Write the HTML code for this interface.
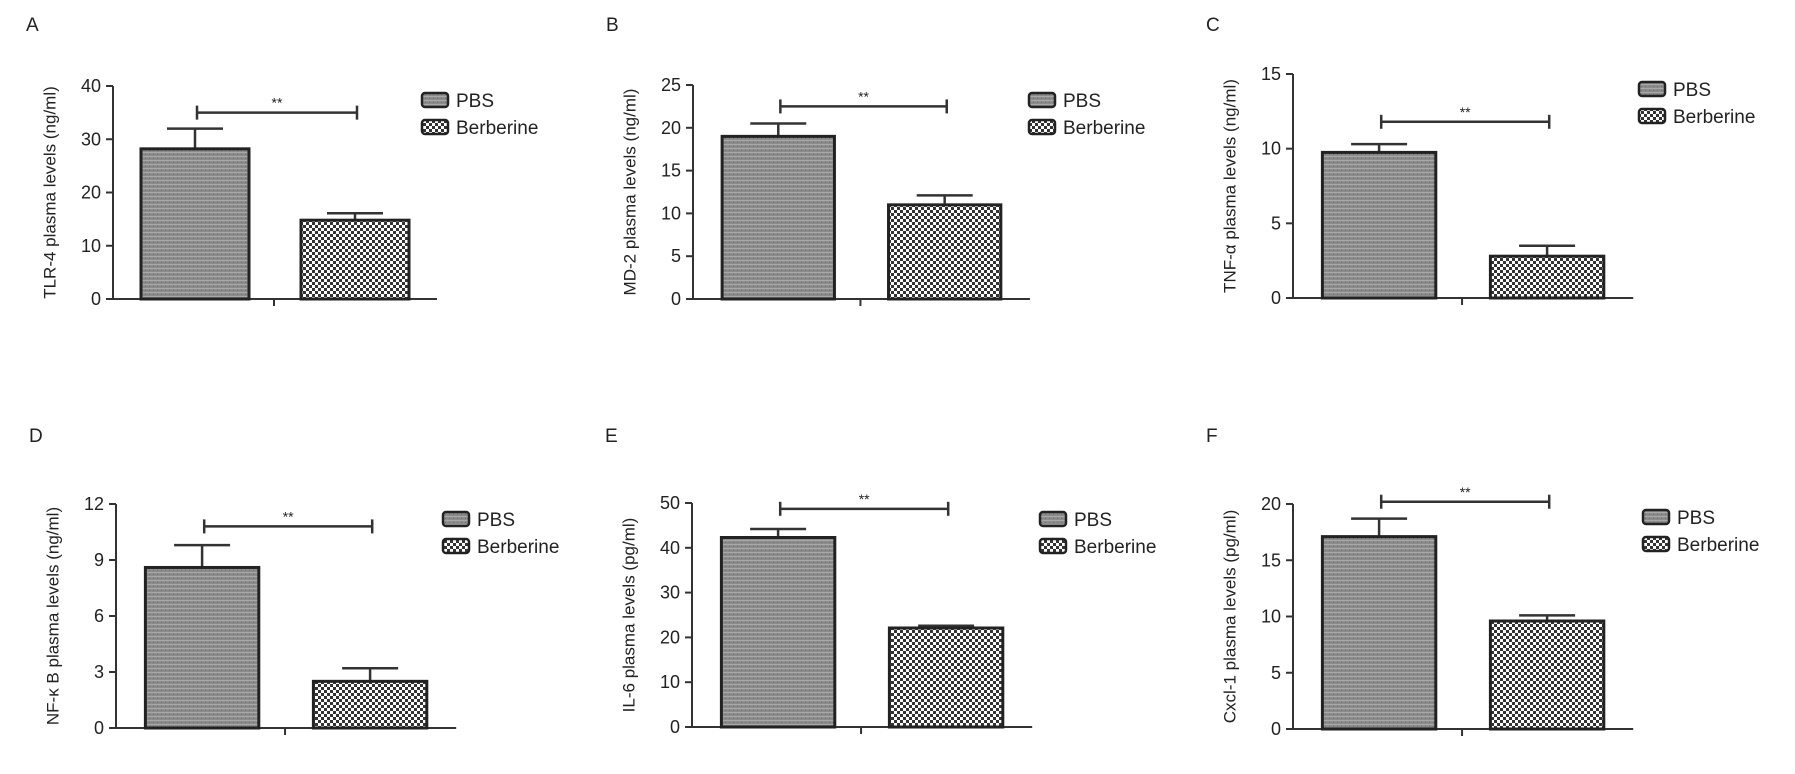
<!DOCTYPE html>
<html><head><meta charset="utf-8"><style>
html,body{margin:0;padding:0;background:#fff;}
svg text{font-family:"Liberation Sans",Arial,sans-serif;fill:#222;}
</style></head><body>
<svg id="fig" width="1795" height="769" viewBox="0 0 1795 769" xmlns="http://www.w3.org/2000/svg">
<defs>
<pattern id="pbsPat" width="4" height="4" patternUnits="userSpaceOnUse">
<rect width="4" height="4" fill="#8c8c8c"/><rect y="0" width="4" height="1" fill="#a8a8a8"/><rect x="1" y="2" width="1" height="1" fill="#6e6e6e"/>
</pattern>
<pattern id="berbPat" width="6" height="6" patternUnits="userSpaceOnUse">
<rect width="6" height="6" fill="#fff"/><rect width="3" height="3" fill="#333"/><rect x="3" y="3" width="3" height="3" fill="#333"/>
</pattern>
</defs>
</svg>
<script>
const groups = ["PBS", "Berberine"];
const titles = ["TLR-4 plasma levels (ng/ml)","MD-2 plasma levels (ng/ml)","TNF-α plasma levels (ng/ml)","NF-κ B plasma levels (ng/ml)","IL-6 plasma levels (pg/ml)","Cxcl-1 plasma levels (pg/ml)"];
const letters = ["A","B","C","D","E","F"];
const meansPBS = [28.2, 19.0, 9.75, 8.6, 42.3, 17.1];
const errPBS = [32.0, 20.5, 10.3, 9.8, 44.2, 18.7];
const meansBerb = [14.8, 11.0, 2.8, 2.5, 22.1, 9.6];
const errBerb = [16.1, 12.1, 3.5, 3.2, 22.6, 10.1];
const sigLevel = [35, 22.5, 11.8, 10.8, 48.7, 20.2];
const yMax = [40, 25, 15, 12, 50, 20];
const yTicks = [[0,10,20,30,40],[0,5,10,15,20,25],[0,5,10,15],[0,3,6,9,12],[0,10,20,30,40,50],[0,5,10,15,20]];

// layout (not data)
const layout = [
 {ax:113, y0:299, yTop:86, legY:100, legX:309, k:1.0},
 {ax:693, y0:299, yTop:85, legY:100, legX:336, k:1.04},
 {ax:1293,y0:298, yTop:74, legY:89, legX:346, k:1.05},
 {ax:116, y0:728, yTop:504, legY:519, legX:327, k:1.05},
 {ax:692, y0:727, yTop:503, legY:519, legX:348, k:1.05},
 {ax:1293,y0:729, yTop:504, legY:517, legX:350, k:1.05}
];
const svg = document.getElementById('fig');
const NS = "http://www.w3.org/2000/svg";
function mk(tag, attrs, parent){const e=document.createElementNS(NS,tag);for(const k in attrs)e.setAttribute(k,attrs[k]);(parent||svg).appendChild(e);return e;}

layout.forEach((L,i)=>{
  const g = mk('g',{});
  
  
  const y = v => L.y0 - v/yMax[i]*(L.y0-L.yTop);
  const ax = L.ax, k = L.k;
  const letY = i<3 ? 23 : 434;
  const lt = mk('text',{x:ax-87,y:letY+8,'font-size':19},g); lt.textContent=letters[i];
  
  
  const cy=(L.y0+L.yTop)/2;
  const tt = mk('text',{x:ax-62,y:cy,'font-size':17,'text-anchor':'middle',transform:`rotate(-90 ${ax-62} ${cy})`,'dominant-baseline':'middle'},g);
  tt.textContent=titles[i];
  
  
  const yaxis = mk('line',{x1:ax,y1:L.yTop,x2:ax,y2:L.y0,stroke:'#333','stroke-width':2},g);
  
  
  const xaxis = mk('line',{x1:ax-1,y1:L.y0,x2:ax+324*k,y2:L.y0,stroke:'#333','stroke-width':2},g);
  
  
  mk('line',{x1:ax+161*k,y1:L.y0,x2:ax+161*k,y2:L.y0+7,stroke:'#333','stroke-width':2},g);
  yTicks[i].forEach(t=>{
    mk('line',{x1:ax-7,y1:y(t),x2:ax,y2:y(t),stroke:'#333','stroke-width':2},g);
    const tl=mk('text',{x:ax-12,y:y(t)+6,'font-size':18,'text-anchor':'end'},g); tl.textContent=t;
    
    
  });
  const bw=108*k;
  const bars=[[meansPBS[i],errPBS[i],ax+28*k,'url(#pbsPat)'],[meansBerb[i],errBerb[i],ax+188*k,'url(#berbPat)']];
  bars.forEach((b,j)=>{
    const cx=b[2]+bw/2;
    mk('line',{x1:cx,y1:y(b[1]),x2:cx,y2:y(b[0]),stroke:'#333','stroke-width':2.5},g);
    mk('line',{x1:cx-28,y1:y(b[1]),x2:cx+28,y2:y(b[1]),stroke:'#333','stroke-width':2.5},g);
    const r=mk('rect',{x:b[2],y:y(b[0]),width:bw,height:L.y0-y(b[0]),fill:b[3],stroke:'#222','stroke-width':3},g);
    
    
  });
  const sy=y(sigLevel[i]);
  const sx1=ax+84*k, sx2=ax+244*k;
  const sg=mk('g',{},g);
  
  
  mk('line',{x1:sx1,y1:sy,x2:sx2,y2:sy,stroke:'#333','stroke-width':2.5},sg);
  mk('line',{x1:sx1,y1:sy-7,x2:sx1,y2:sy+7,stroke:'#333','stroke-width':2.5},sg);
  mk('line',{x1:sx2,y1:sy-7,x2:sx2,y2:sy+7,stroke:'#333','stroke-width':2.5},sg);
  const st=mk('text',{x:(sx1+sx2)/2,y:sy-5,'font-size':14,'text-anchor':'middle'},sg); st.textContent='**';
  groups.forEach((gname,j)=>{
    const ly=L.legY+j*27;
    const le=mk('g',{},g);
    
    
    mk('rect',{x:ax+L.legX,y:ly-7,width:26,height:14,rx:3,fill:j?'url(#berbPat)':'url(#pbsPat)',stroke:'#222','stroke-width':2.5},le);
    const t=mk('text',{x:ax+L.legX+34,y:ly+7,'font-size':19},le); t.textContent=gname;
  });
});
</script>
</body></html>
